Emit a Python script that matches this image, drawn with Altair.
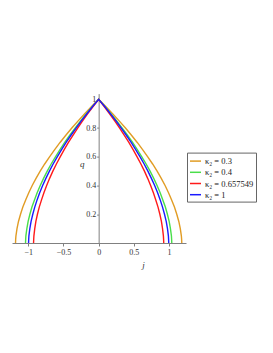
import altair as alt
import pandas as pd

# q values (vertical axis) read along each branch
q_vals = [0, 0.025, 0.05, 0.1, 0.15, 0.2, 0.25, 0.3, 0.35, 0.4, 0.45, 0.5,
          0.55, 0.6, 0.65, 0.7, 0.75, 0.8, 0.85, 0.9, 0.95, 1.0]

# |j| read at each q for each kappa_2 (curves are mirror-symmetric about j = 0)
j_k03 = [1.18, 1.178, 1.174, 1.159, 1.138, 1.109, 1.076, 1.036, 0.992, 0.943, 0.889,
         0.830, 0.766, 0.697, 0.624, 0.548, 0.466, 0.381, 0.291, 0.198, 0.101, 0]
j_k04 = [1.038, 1.036, 1.033, 1.019, 1.001, 0.976, 0.947, 0.911, 0.873, 0.829, 0.782,
         0.730, 0.674, 0.613, 0.549, 0.482, 0.410, 0.335, 0.256, 0.174, 0.089, 0]
j_k0657 = [0.924, 0.922, 0.919, 0.907, 0.891, 0.869, 0.843, 0.811, 0.777, 0.738, 0.696,
           0.650, 0.600, 0.546, 0.489, 0.429, 0.365, 0.298, 0.228, 0.155, 0.079, 0]
j_k1 = [0.995, 0.993, 0.990, 0.977, 0.959, 0.935, 0.907, 0.874, 0.837, 0.795, 0.749,
        0.699, 0.646, 0.588, 0.526, 0.462, 0.393, 0.321, 0.246, 0.167, 0.086, 0]

labels = ["κ₂ = 0.3", "κ₂ = 0.4", "κ₂ = 0.657549", "κ₂ = 1"]
series = [j_k03, j_k04, j_k0657, j_k1]
colors = ["#E19C24", "#4ade4a", "#ff1a1a", "#1a1aff"]

x_ticks = [-1, -0.5, 0, 0.5, 1]
y_ticks = [0.2, 0.4, 0.6, 0.8, 1]

rows = []
for lab, js in zip(labels, series):
    idx = 0
    for q, j in zip(q_vals, js):
        rows.append({"series": lab, "j": -j, "q": q, "o": idx})
        idx += 1
    for q, j in zip(reversed(q_vals[:-1]), list(reversed(js[:-1]))):
        rows.append({"series": lab, "j": j, "q": q, "o": idx})
        idx += 1
df = pd.DataFrame(rows)

W = 174
H = 149.4
xdom = [-1.23, 1.24]
ydom = [0, 1.04]
y_axis_pos = W * (0 - xdom[0]) / (xdom[1] - xdom[0])

font = "Liberation Serif"
axis_color = "#808080"
fmt = "datum.value == 0 ? '0' : format(datum.value, '')"

chart = alt.Chart(df).mark_line(strokeWidth=1.4, interpolate="linear").encode(
    x=alt.X("j:Q", scale=alt.Scale(domain=xdom, nice=False, zero=False),
            axis=alt.Axis(values=x_ticks, grid=False, title="j", titleX=131, titleY=17,
                          titleFont=font, titleFontStyle="italic", titleFontWeight="normal",
                          titleFontSize=9, titleColor="#333",
                          labelFont=font, labelFontSize=8, labelColor="#333",
                          labelPadding=2, tickSize=3, tickColor=axis_color,
                          domainColor=axis_color, labelExpr=fmt)),
    y=alt.Y("q:Q", scale=alt.Scale(domain=ydom, nice=False),
            axis=alt.Axis(values=y_ticks, grid=False, title="q", offset=-y_axis_pos,
                          titleX=-17, titleY=75, titleAngle=0, titleFont=font,
                          titleFontStyle="italic", titleFontWeight="normal", titleFontSize=9,
                          titleColor="#333",
                          labelFont=font, labelFontSize=8, labelColor="#333",
                          labelPadding=1, tickSize=2, tickColor=axis_color,
                          domainColor=axis_color, labelExpr=fmt)),
    color=alt.Color("series:N", sort=labels,
                    scale=alt.Scale(domain=labels, range=colors),
                    legend=alt.Legend(title=None, orient="none", legendX=175, legendY=59,
                                      strokeColor="#666", padding=2, symbolType="stroke",
                                      symbolSize=121, symbolStrokeWidth=1.5,
                                      labelFont=font, labelFontSize=8.5, labelColor="#222",
                                      rowPadding=0.2, labelOffset=3)),
    order="o:Q",
).properties(
    width=W, height=H,
    autosize=alt.AutoSizeParams(type="none"),
    padding={"left": 4, "top": 85.6, "right": 75, "bottom": 90},
).configure_view(stroke=None)

chart.save("out.html", embed_options={"renderer": "svg", "actions": False})
